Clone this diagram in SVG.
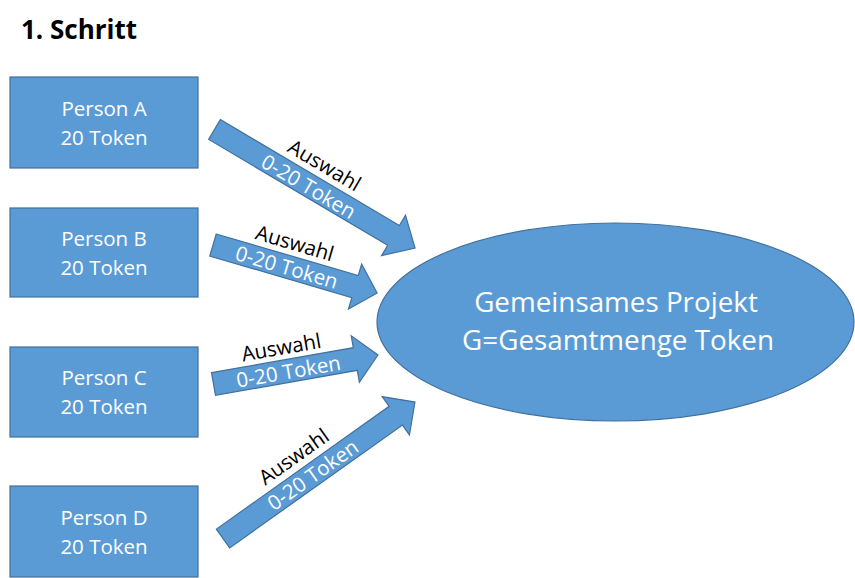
<svg xmlns="http://www.w3.org/2000/svg" width="855" height="578" viewBox="0 0 855 578">
<style>
.shape{fill:#5B9BD5;stroke:#41719C;stroke-width:1.2}
.wt{fill:#FFFFFF;font-family:"Open Sans","Noto Sans",sans-serif;text-anchor:middle}
.bt{fill:#000000;font-family:"Open Sans","Noto Sans",sans-serif;text-anchor:middle}
.box{font-size:20.5px}
.lbl{font-size:20.5px}
</style>
<rect width="855" height="578" fill="#FFFFFF"/>
<text x="21" y="39" style="font-family:'Open Sans','Noto Sans',sans-serif;font-weight:bold;font-size:26px;fill:#000">1. Schritt</text>

<g id="personA">
<rect class="shape" x="10" y="77" width="188" height="91"/>
<text class="wt box" x="104" y="116">Person A</text>
<text class="wt box" x="104" y="145">20 Token</text>
</g>
<g id="personB">
<rect class="shape" x="10" y="208" width="188" height="89"/>
<text class="wt box" x="104" y="246">Person B</text>
<text class="wt box" x="104" y="275">20 Token</text>
</g>
<g id="personC">
<rect class="shape" x="10" y="347" width="188" height="90"/>
<text class="wt box" x="104" y="385">Person C</text>
<text class="wt box" x="104" y="414">20 Token</text>
</g>
<g id="personD">
<rect class="shape" x="10" y="486" width="188" height="91"/>
<text class="wt box" x="104" y="525">Person D</text>
<text class="wt box" x="104" y="554">20 Token</text>
</g>

<g id="projekt">
<ellipse class="shape" cx="615.5" cy="322" rx="238.5" ry="99"/>
<text class="wt" style="font-size:27.8px" x="616" y="312">Gemeinsames Projekt</text>
<text class="wt" style="font-size:27.8px" x="618" y="350">G=Gesamtmenge Token</text>
</g>

<g id="connectors">
<g id="arrowA" transform="translate(214.5,129.5) rotate(30.6)">
<polygon class="shape" points="0,-11.5 208,-11.5 208,-23.5 233,0 208,23.5 208,11.5 0,11.5"/>
<text class="bt lbl" x="113" y="-18">Auswahl</text>
<text class="wt lbl" x="110" y="8.5">0-20 Token</text>
</g>
<g id="arrowB" transform="translate(213,245) rotate(16.3)">
<polygon class="shape" points="0,-11.5 148,-11.5 148,-23.5 171,0 148,23.5 148,11.5 0,11.5"/>
<text class="bt lbl" x="78" y="-17.5">Auswahl</text>
<text class="wt lbl" x="77" y="8">0-20 Token</text>
</g>
<g id="arrowC" transform="translate(213.5,384) rotate(-10)">
<polygon class="shape" points="0,-11.5 144,-11.5 144,-23.5 167,0 144,23.5 144,11.5 0,11.5"/>
<text class="bt lbl" x="73" y="-17">Auswahl</text>
<text class="wt lbl" x="76" y="8">0-20 Token</text>
</g>
<g id="arrowD" transform="translate(223,538.5) rotate(-35.4)">
<polygon class="shape" points="0,-11.5 212,-11.5 212,-23.5 235.5,0 212,23.5 212,11.5 0,11.5"/>
<text class="bt lbl" x="105" y="-18.5">Auswahl</text>
<text class="wt lbl" x="110" y="7.5">0-20 Token</text>
</g>
</g>
</svg>
